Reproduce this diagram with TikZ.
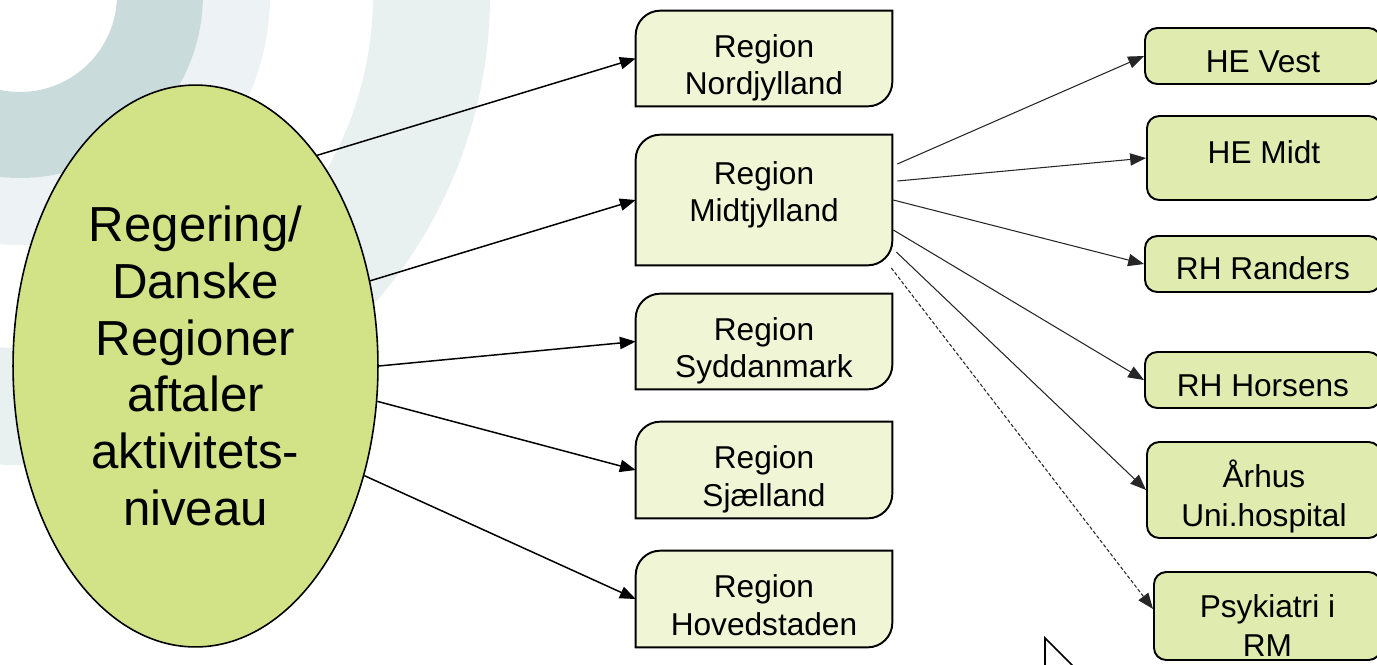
\documentclass[tikz,border=0pt]{standalone}
\usepackage{fontspec}
\setmainfont{Liberation Sans}
\usepackage{tikz}
\usetikzlibrary{shapes.geometric,arrows.meta,backgrounds}
\definecolor{GovGreen}{HTML}{D1E287}
\definecolor{RegFill}{HTML}{F0F5D6}
\definecolor{HospFill}{HTML}{E0EBB0}
\definecolor{RingDark}{HTML}{C9DBDB}
\definecolor{RingPale}{HTML}{EDF3F5}
\definecolor{RingLight}{HTML}{E8F0F0}
\tikzset{
  govnode/.style={ellipse,draw=black,line width=0.9pt,fill=GovGreen,minimum width=7.3cm,minimum height=11.24cm,inner sep=0pt,align=center,font=\fontsize{28}{32.3}\selectfont},
  regbox/.style={rectangle,minimum width=5.12cm,inner sep=0pt,text height=41.5pt,text depth=0pt,align=center,font=\fontsize{18}{21.5}\selectfont},
  regshape/.style={draw=black,line width=1.1pt,fill=RegFill},
  hospbox/.style={rectangle,rounded corners=7pt,draw=black,line width=1.1pt,fill=HospFill,anchor=west,inner sep=0pt,text height=18.6pt,text depth=0pt,align=center,font=\fontsize{18}{22}\selectfont},
  arrow/.style={-{Triangle[length=9pt,width=7pt]},line width=0.85pt,color=black},
  arrowthin/.style={-{Triangle[length=9pt,width=7pt]},line width=0.6pt,color=black!85},
}

\begin{document}
\begin{tikzpicture}[x=0.02cm,y=-0.02cm]
  \useasboundingbox (0,0) rectangle (1377,664);
  \clip (0,0) rectangle (1377,664);

  % Background arcs
  \fill[RingLight,even odd rule] (20,-5) circle[radius=470] (20,-5) circle[radius=353];
  \fill[RingPale,even odd rule] (20,-5) circle[radius=250] (20,-5) circle[radius=183];
  \fill[RingDark,even odd rule] (20,-5) circle[radius=183] (20,-5) circle[radius=97];

  % Agreement
  \node[govnode] (gov) at (195.5,366) {Regering/\\Danske\\Regioner\\aftaler\\aktivitets-\\niveau};

  % Regions
  \node[regbox, minimum height=1.9cm] (nord) at (764,58.5) {Region\\Nordjylland};
  \node[regbox, minimum height=2.6cm, text height=34.4pt, text depth=9.5pt] (midt) at (764,200) {Region\\Midtjylland};
  \node[regbox, minimum height=1.9cm] (syd) at (764,341.5) {Region\\Syddanmark};
  \node[regbox, minimum height=1.92cm] (sjael) at (764,470) {Region\\Sjælland};
  \node[regbox, minimum height=1.92cm] (hoved) at (764,599) {Region\\Hovedstaden};

  \begin{scope}[on background layer]
    \foreach \n in {nord,midt,syd,sjael,hoved}
      \draw[regshape] (\n.north east) -- ([xshift=14pt]\n.north west)
        arc[start angle=90,end angle=180,radius=14pt] -- (\n.south west)
        -- ([xshift=-14pt]\n.south east) arc[start angle=270,end angle=360,radius=14pt] -- cycle;
  \end{scope}

  % Hospitals in Midtjylland
  \node[hospbox, minimum width=4.72cm, minimum height=1.12cm] (vest) at (1144,56) {HE Vest};
  \node[hospbox, minimum width=4.68cm, minimum height=1.68cm, text height=12.9pt, text depth=6.8pt] (hemidt) at (1146,158) {HE Midt};
  \node[hospbox, minimum width=4.72cm, minimum height=1.12cm, text height=17.7pt] (randers) at (1144,264) {RH Randers};
  \node[hospbox, minimum width=4.72cm, minimum height=1.12cm] (horsens) at (1144,380) {RH Horsens};
  \node[hospbox, minimum width=4.68cm, minimum height=1.92cm, text height=41.6pt] (aarhus) at (1146,490) {Århus\\Uni.hospital};
  \node[hospbox, minimum width=4.54cm, minimum height=1.76cm, text height=45.9pt] (psyk) at (1153,616) {Psykiatri i\\RM};

  % Arrows to regions
  \draw[arrow] (gov.60) -- (nord.west);
  \draw[arrow] (gov.26) -- (midt.west);
  \draw[arrow] (gov.0) -- (syd.west);
  \draw[arrow] (gov.-11) -- (sjael.west);
  \draw[arrow] (gov.-33) -- (hoved.west);

  % Arrows to hospitals
  \draw[arrowthin] ([shift={(5,-36)}]midt.east) -- (vest.west);
  \draw[arrowthin] ([shift={(5,-19)}]midt.east) -- (hemidt.west);
  \draw[arrowthin] ([shift={(1,0)}]midt.east) -- (randers.west);
  \draw[arrowthin] ([shift={(1,30)}]midt.east) -- (horsens.west);
  \draw[arrowthin] ([shift={(4,52)}]midt.east) -- (aarhus.west);
  \draw[arrowthin,dash pattern=on 2pt off 1.2pt] ([shift={(-1,68)}]midt.east) -- ([yshift=4]psyk.west);

  % Pointer
  \draw[fill=white,line width=1pt] (1045,672) -- (1045,638) -- (1084,677);
\end{tikzpicture}
\end{document}
